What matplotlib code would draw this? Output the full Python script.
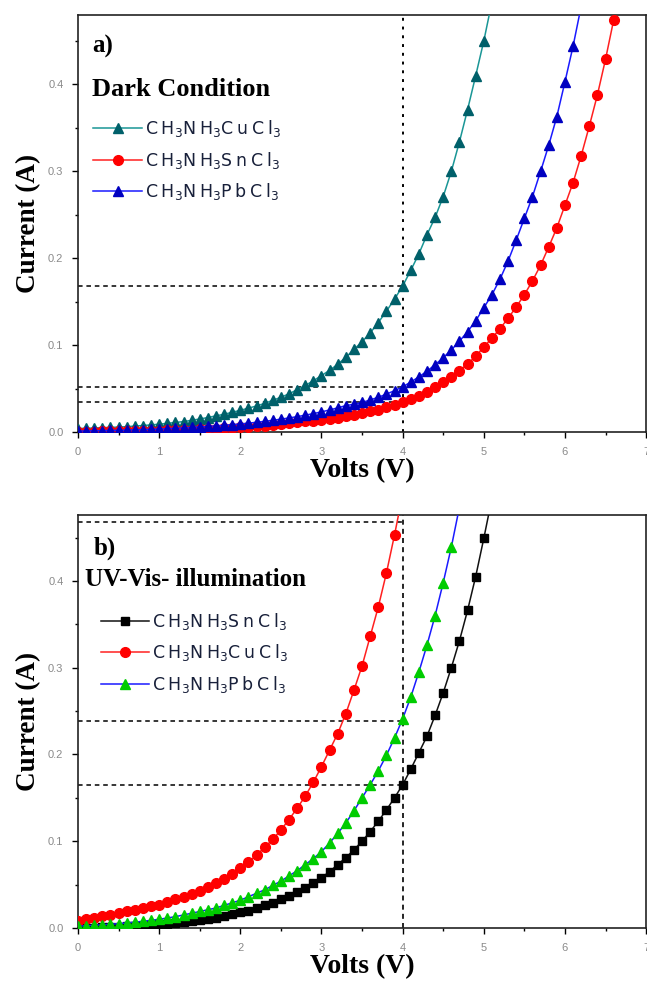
import matplotlib
matplotlib.use("Agg")
import matplotlib.pyplot as plt
from matplotlib.ticker import MultipleLocator, FormatStrFormatter

# ---------------- data ----------------
volts = [round(0.1 * i, 1) for i in range(67)]  # 0.0 ... 6.6

# Panel a) dark condition
dark_cu = [0.004, 0.0043, 0.0046, 0.005, 0.0053, 0.0057, 0.0062, 0.0068, 0.0075, 0.0082,
           0.009, 0.010, 0.011, 0.012, 0.0135, 0.015, 0.0167, 0.0186, 0.0205, 0.0227,
           0.025, 0.0275, 0.030, 0.033, 0.0365, 0.040, 0.044, 0.0487, 0.0536, 0.059,
           0.065, 0.071, 0.078, 0.086, 0.095, 0.104, 0.114, 0.126, 0.139, 0.153,
           0.168, 0.186, 0.205, 0.227, 0.247, 0.271, 0.300, 0.334, 0.371, 0.410,
           0.450, 0.495]
dark_sn = [0.0003, 0.0004, 0.0005, 0.0006, 0.0007, 0.0008, 0.0009, 0.001, 0.0012, 0.0014,
           0.0016, 0.0018, 0.002, 0.0023, 0.0026, 0.003, 0.0034, 0.0038, 0.0043, 0.0048,
           0.0054, 0.006, 0.0067, 0.0075, 0.0083, 0.0092, 0.0102, 0.0112, 0.0122, 0.0131,
           0.0137, 0.015, 0.0165, 0.018, 0.0197, 0.0216, 0.0237, 0.0259, 0.0284, 0.031,
           0.034, 0.0378, 0.042, 0.0466, 0.0517, 0.0574, 0.0637, 0.0707, 0.0785, 0.087,
           0.098, 0.108, 0.119, 0.131, 0.144, 0.158, 0.174, 0.192, 0.213, 0.235,
           0.261, 0.287, 0.318, 0.352, 0.388, 0.429, 0.474]
dark_pb = [0.001, 0.0012, 0.0014, 0.0016, 0.0018, 0.002, 0.0022, 0.0025, 0.0028, 0.0031,
           0.0035, 0.0039, 0.0043, 0.0048, 0.0053, 0.0059, 0.0065, 0.0071, 0.0078, 0.0085,
           0.0093, 0.0102, 0.0112, 0.0123, 0.0135, 0.0148, 0.0162, 0.0177, 0.0194, 0.0212,
           0.0232, 0.0254, 0.0278, 0.0304, 0.032, 0.034, 0.0369, 0.040, 0.0436, 0.0476,
           0.052, 0.0575, 0.0635, 0.070, 0.0775, 0.0855, 0.0945, 0.1045, 0.1155, 0.128,
           0.143, 0.158, 0.176, 0.197, 0.221, 0.246, 0.271, 0.300, 0.330, 0.363,
           0.403, 0.444, 0.490]

# Panel b) UV-Vis illumination
uv_sn = [0.0, 0.0003, 0.0005, 0.0007, 0.001, 0.0013, 0.0017, 0.0022, 0.0027, 0.0033,
         0.004, 0.0048, 0.0057, 0.0067, 0.0078, 0.009, 0.0105, 0.012, 0.014, 0.016,
         0.018, 0.020, 0.023, 0.026, 0.029, 0.033, 0.037, 0.041, 0.046, 0.052,
         0.058, 0.065, 0.073, 0.081, 0.090, 0.100, 0.111, 0.123, 0.136, 0.150,
         0.165, 0.183, 0.202, 0.221, 0.245, 0.271, 0.300, 0.331, 0.366, 0.405,
         0.449, 0.495]
uv_cu = [0.0085, 0.010, 0.012, 0.0135, 0.015, 0.017, 0.019, 0.021, 0.023, 0.025,
         0.027, 0.030, 0.033, 0.036, 0.039, 0.043, 0.047, 0.052, 0.057, 0.0625,
         0.069, 0.076, 0.084, 0.093, 0.102, 0.113, 0.125, 0.138, 0.152, 0.168,
         0.186, 0.205, 0.224, 0.247, 0.274, 0.302, 0.336, 0.370, 0.409, 0.453,
         0.500]
uv_pb = [0.002, 0.0026, 0.0031, 0.0037, 0.0043, 0.005, 0.0058, 0.0067, 0.0077, 0.0088,
         0.010, 0.0115, 0.013, 0.015, 0.017, 0.019, 0.021, 0.023, 0.026, 0.029,
         0.032, 0.036, 0.040, 0.044, 0.049, 0.054, 0.060, 0.066, 0.073, 0.080,
         0.088, 0.098, 0.109, 0.121, 0.135, 0.150, 0.165, 0.181, 0.199, 0.219,
         0.241, 0.266, 0.295, 0.326, 0.360, 0.398, 0.439, 0.485]

dark_refs = [0.168, 0.052, 0.034]
uv_refs = [0.468, 0.238, 0.165]
ref_volt = 4.0

lab_cu = r'$\mathregular{C\:H_3N\:H_3C\:u\:C\:l_3}$'
lab_sn = r'$\mathregular{C\:H_3N\:H_3S\:n\:C\:l_3}$'
lab_pb = r'$\mathregular{C\:H_3N\:H_3P\:b\:C\:l_3}$'

# ---------------- figure ----------------
fig = plt.figure(figsize=(6.47, 9.85), dpi=100)
ax1 = fig.add_axes([0.1206, 0.5614, 0.878, 0.4234])
ax2 = fig.add_axes([0.1206, 0.0579, 0.878, 0.4193])

serif = ['Liberation Serif', 'DejaVu Serif']
sans = ['Liberation Sans', 'DejaVu Sans']
legend_color = '#18203a'
tick_color = '#8a8a8a'


def style(ax, ytop):
    ax.set_xlim(0, 7)
    ax.set_ylim(0, ytop)
    ax.xaxis.set_major_locator(MultipleLocator(1))
    ax.xaxis.set_minor_locator(MultipleLocator(0.5))
    ax.yaxis.set_major_locator(MultipleLocator(0.1))
    ax.yaxis.set_minor_locator(MultipleLocator(0.05))
    ax.tick_params(which='both', direction='out', color='black', width=1.0,
                   labelcolor=tick_color, labelsize=8)
    ax.tick_params(which='major', length=4.5, pad=6)
    ax.tick_params(which='minor', length=2.5)
    ax.yaxis.set_major_formatter(FormatStrFormatter('%.1f'))
    for lab in ax.get_xticklabels() + ax.get_yticklabels():
        lab.set_family(sans)
    for s in ax.spines.values():
        s.set_linewidth(1.2)
        s.set_color('#222222')
    ax.set_xlabel('Volts (V)', fontsize=20, fontweight='bold', family=serif, labelpad=1)
    ax.set_ylabel('Current (A)', fontsize=19.5, fontweight='bold', family=serif, labelpad=5)


# ---- panel a ----
ms = 7
ax1.plot(volts[:len(dark_cu)], dark_cu, '-', color='#1a9696', lw=1.1, marker='^', ms=ms,
         mfc='#00606a', mec='#00606a', label=lab_cu, zorder=3)
ax1.plot(volts[:len(dark_sn)], dark_sn, '-', color='#ff2020', lw=1.1, marker='o', ms=ms,
         mfc='#ff0000', mec='#ff0000', label=lab_sn, zorder=3)
ax1.plot(volts[:len(dark_pb)], dark_pb, '-', color='#1a1aff', lw=1.1, marker='^', ms=ms,
         mfc='#0000c0', mec='#0000c0', label=lab_pb, zorder=4)
for r in dark_refs:
    ax1.plot([0, ref_volt], [r, r], color='black', ls=(0, (3, 2.5)), lw=1.1, zorder=2)
ax1.axvline(ref_volt, color='black', ls=(0, (1.5, 3)), lw=1.4, zorder=2)
style(ax1, 0.48)
ax1.text(0.025, 0.925, 'a)', transform=ax1.transAxes, fontsize=18, fontweight='bold',
         family=serif, va='center')
ax1.text(0.025, 0.822, 'Dark Condition', transform=ax1.transAxes, fontsize=19,
         fontweight='bold', family=serif, va='center')
leg1 = ax1.legend(loc='upper left', bbox_to_anchor=(0.015, 0.77), frameon=False,
                  fontsize=12.5, handlelength=2.8, handletextpad=0.15, labelspacing=0.62,
                  borderaxespad=0)
for t in leg1.get_texts():
    t.set_color(legend_color)

# ---- panel b ----
ax2.plot(volts[:len(uv_sn)], uv_sn, '-', color='#111111', lw=1.1, marker='s', ms=6,
         mfc='black', mec='black', label=lab_sn, zorder=3)
ax2.plot(volts[:len(uv_cu)], uv_cu, '-', color='#ff2020', lw=1.1, marker='o', ms=ms,
         mfc='#ff0000', mec='#ff0000', label=lab_cu, zorder=3)
ax2.plot(volts[:len(uv_pb)], uv_pb, '-', color='#1a1aff', lw=1.1, marker='^', ms=ms + 0.5,
         mfc='#00cc00', mec='#00cc00', label=lab_pb, zorder=4)
for r in uv_refs:
    ax2.plot([0, ref_volt], [r, r], color='black', ls=(0, (3, 2.5)), lw=1.1, zorder=2)
ax2.axvline(ref_volt, color='black', ls=(0, (3, 2.5)), lw=1.2, zorder=2)
style(ax2, 0.476)
ax2.text(0.027, 0.92, 'b)', transform=ax2.transAxes, fontsize=18, fontweight='bold',
         family=serif, va='center')
ax2.text(0.012, 0.843, 'UV-Vis- illumination', transform=ax2.transAxes, fontsize=18,
         fontweight='bold', family=serif, va='center')
leg2 = ax2.legend(loc='upper left', bbox_to_anchor=(0.028, 0.785), frameon=False,
                  fontsize=12.5, handlelength=2.8, handletextpad=0.15, labelspacing=0.62,
                  borderaxespad=0)
for t in leg2.get_texts():
    t.set_color(legend_color)

fig.savefig('out.png', dpi=100)
